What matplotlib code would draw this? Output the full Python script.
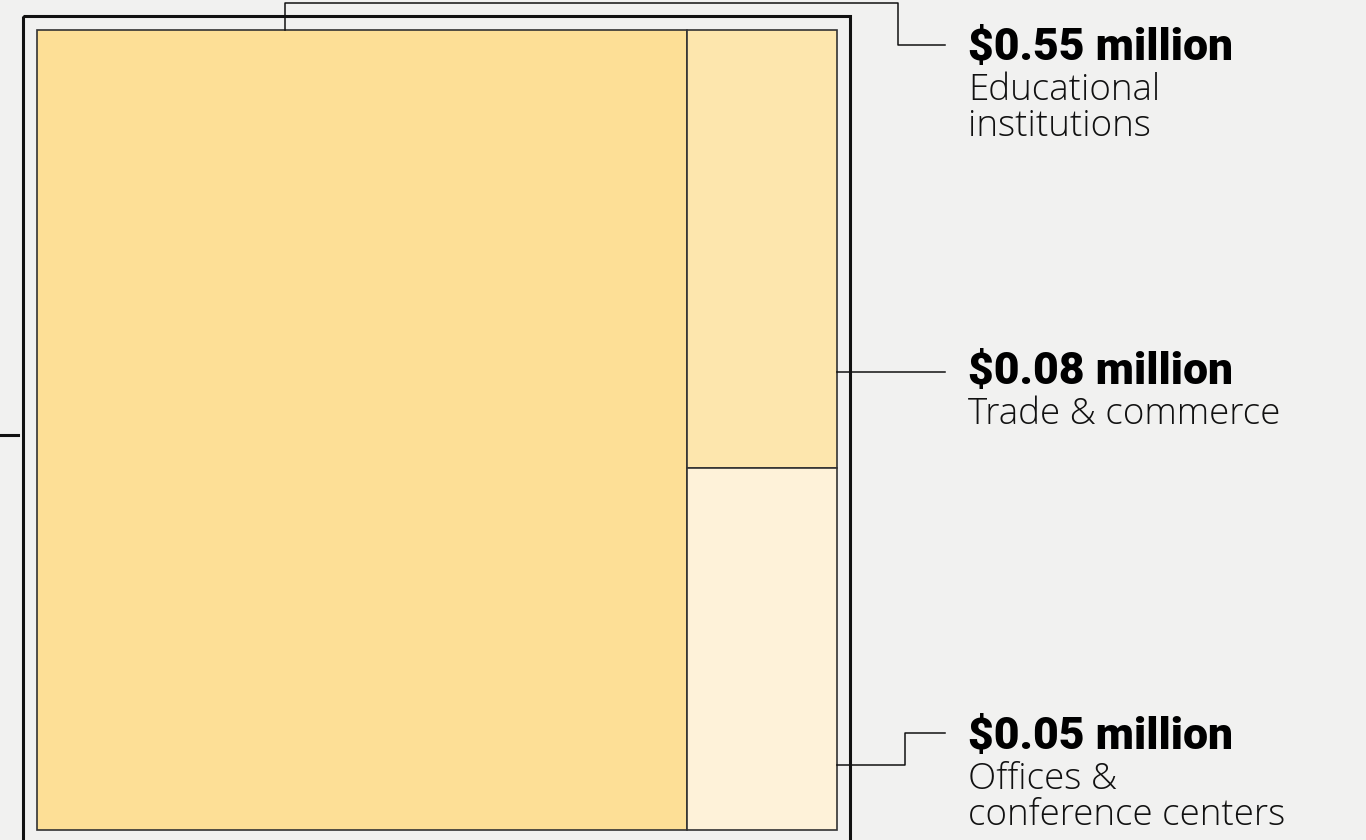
import matplotlib
matplotlib.use("Agg")

import matplotlib.pyplot as plt
from matplotlib.patches import Rectangle

# ── Data ────────────────────────────────────────────────────────────────────
categories = ["Educational\ninstitutions", "Trade & commerce", "Offices &\nconference centers"]
value_labels = ["$0.55 million", "$0.08 million", "$0.05 million"]
# areas as they appear in the treemap (million $)
areas = [0.55, 0.0696, 0.0574]
colors = ["#FDDF96", "#FDE6AD", "#FEF2D9"]

BG = "#F1F1F0"

fig = plt.figure(figsize=(13.66, 8.4), dpi=100, facecolor=BG)
ax = fig.add_axes([0, 0, 1, 1])
ax.set_xlim(0, 1366)
ax.set_ylim(840, 0)
ax.axis("off")
ax.set_facecolor(BG)

# ── Outer (parent) frame ────────────────────────────────────────────────────
ax.add_patch(Rectangle((23, 16), 827, 860, fill=False, ec="#111111", lw=2.2, zorder=2))
ax.plot([0, 18], [435, 435], color="#111111", lw=2.2)

# ── Treemap: slice-and-dice ─────────────────────────────────────────────────
X0, Y0, W, H = 37, 30, 800, 800
total = sum(areas)
w_big = W * areas[0] / total
rects = [(X0, Y0, w_big, H)]
rest = sum(areas[1:])
y = Y0
for a in areas[1:]:
    h = H * a / rest
    rects.append((X0 + w_big, y, W - w_big, h))
    y += h

for (x, y, w, h), c in zip(rects, colors):
    ax.add_patch(Rectangle((x, y), w, h, fc=c, ec="#333333", lw=1.2, zorder=3))

# ── Leader lines + labels ───────────────────────────────────────────────────
lc = dict(color="#111111", lw=1.1, zorder=4)
TX = 968
bx, by, bw, bh = rects[0]
ax.plot([285, 285, 898, 898, 945], [by, 3, 3, 45, 45], **lc)

tx, ty, tw, th = rects[1]
ty_mid = ty + th * 0.78
ax.plot([tx + tw, 945], [ty_mid, ty_mid], **lc)

ox, oy, ow, oh = rects[2]
oy_mid = oy + oh * 0.82
ax.plot([ox + ow, 905, 905, 945], [oy_mid, oy_mid, 733, 733], **lc)

label_y = [48, ty_mid, 737]
for lab, cat, ly in zip(value_labels, categories, label_y):
    ax.text(TX, ly, lab, fontsize=32, fontweight="black", family="Roboto",
            color="black", va="center", ha="left")
    ax.text(TX, ly + 24, cat, fontsize=26.5, fontweight="light", family="Open Sans",
            color="#111111", va="top", ha="left", linespacing=0.98)

fig.savefig("out.png", dpi=100, facecolor=BG)
